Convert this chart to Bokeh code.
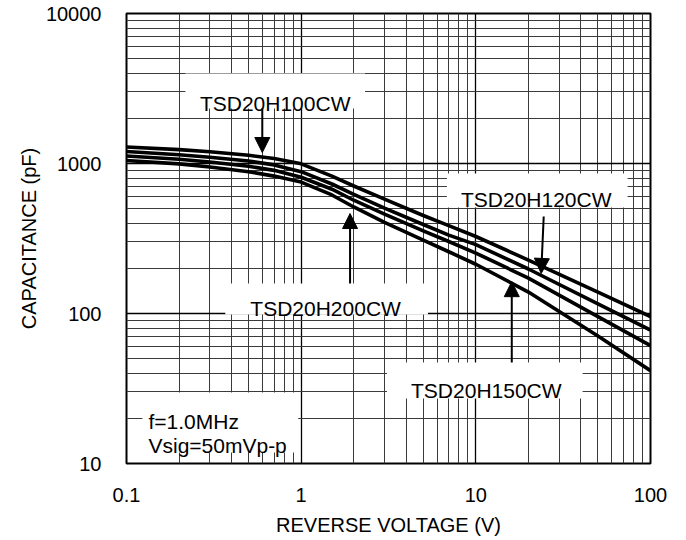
from bokeh.plotting import figure
from bokeh.models import (FixedTicker, CustomJSTickFormatter, BoxAnnotation,
                          Arrow, NormalHead, Label)
from bokeh.embed import file_html
from bokeh.resources import INLINE

# ---------------- data ----------------
voltage = [0.1, 0.2, 0.3, 0.5, 0.7, 1, 1.5, 2, 3, 5, 7, 10, 20, 50, 100]
cap_1 = [1288, 1238, 1197, 1134, 1081, 995, 824, 708, 578, 450, 385, 326, 227, 139, 95.5]
cap_2 = [1202, 1145, 1102, 1038, 979, 882, 730, 623, 504, 392, 333, 288, 198, 116, 77.6]
cap_3 = [1122, 1068, 1023, 958, 900, 810, 674, 569, 460, 356, 302, 253, 172, 95.3, 61.1]
cap_4 = [1047, 994, 948, 882, 824, 752, 617, 513, 405, 308, 258, 213, 139, 70.9, 41.6]

x_ticks = [0.1, 1, 10, 100]
y_ticks = [10, 100, 1000, 10000]
x_minor = [0.2, 0.3, 0.4, 0.5, 0.6, 0.7, 0.8, 0.9,
           2, 3, 4, 5, 6, 7, 8, 9,
           20, 30, 40, 50, 60, 70, 80, 90]
y_minor = [20, 30, 40, 50, 60, 70, 80, 90,
           200, 300, 400, 500, 600, 700, 800, 900,
           2000, 3000, 4000, 5000, 6000, 7000, 8000, 9000]

part_names = ["TSD20H100CW", "TSD20H120CW", "TSD20H200CW", "TSD20H150CW"]
cond_lines = ["f=1.0MHz", "Vsig=50mVp-p"]
x_title = "REVERSE VOLTAGE (V)"
y_title = "CAPACITANCE (pF)"

# ---------------- layout (annotation placement, data coords) ----------------
# label: (x_center, y_baseline); box: (left, right, bottom, top); arrow: (x0, y0, x1, y1)
label_pos = [(0.710, 2523), (22.17, 575), (1.380, 108), (11.48, 30.7)]
box_pos = [(0.2174, 2.321, 2326, 3981),
           (6.83, 73.9, 509, 857),
           (0.3679, 5.317, 98.5, 158.5),
           (3.10, 40.88, 27.1, 47.1)]
arrow_pos = [(0.599, 2326, 0.599, 1184),
             (24.47, 443, 23.67, 185),
             (1.905, 158.5, 1.905, 464),
             (16.06, 47.1, 16.06, 163)]
cond_box = (0.1234, 0.9614, 11.84, 29.74)
cond_pos = [(0.1336, 19.05), (0.1336, 13.18)]

FONT = "Liberation Sans"

p = figure(x_axis_type="log", y_axis_type="log",
           x_range=(0.1, 100), y_range=(10, 10000),
           frame_width=524, frame_height=450,
           min_border_left=126, min_border_right=28,
           min_border_top=13, min_border_bottom=60,
           output_backend="svg", toolbar_location=None,
           background_fill_color="white", border_fill_color="white")

p.outline_line_color = "black"
p.outline_line_width = 2

fmt = CustomJSTickFormatter(code="return String(tick);")
for ax, t, m in ((p.xaxis[0], x_ticks, x_minor), (p.yaxis[0], y_ticks, y_minor)):
    ax.ticker = FixedTicker(ticks=t, minor_ticks=m)
    ax.formatter = fmt
    ax.axis_line_color = None
    ax.major_tick_line_color = None
    ax.minor_tick_line_color = None
    ax.major_tick_in = 0
    ax.major_tick_out = 0
    ax.minor_tick_in = 0
    ax.minor_tick_out = 0
    ax.major_label_text_font = FONT
    ax.major_label_text_font_size = "20px"
    ax.major_label_text_color = "black"
    ax.axis_label_text_font = FONT
    ax.axis_label_text_font_size = "20px"
    ax.axis_label_text_font_style = "normal"
    ax.axis_label_text_color = "black"

p.xaxis.axis_label = x_title
p.yaxis.axis_label = y_title
p.xaxis.major_label_standoff = 24
p.yaxis.major_label_standoff = 25
p.xaxis.axis_label_standoff = 9
p.yaxis.axis_label_standoff = 3

for g, t, m in ((p.xgrid[0], x_ticks, x_minor), (p.ygrid[0], y_ticks, y_minor)):
    g.ticker = FixedTicker(ticks=t, minor_ticks=m)
    g.grid_line_color = "black"
    g.grid_line_width = 1.3
    g.minor_grid_line_color = "#3a3a3a"
    g.minor_grid_line_width = 1

for cap in (cap_1, cap_2, cap_3, cap_4):
    p.line(voltage, cap, line_color="black", line_width=3.6, line_join="round")

# white label boxes covering the grid
for (l, r, b, t) in box_pos + [cond_box]:
    p.add_layout(BoxAnnotation(left=l, right=r, bottom=b, top=t,
                               fill_color="white", fill_alpha=1.0,
                               line_color=None, line_alpha=0))

for (x0, y0, x1, y1) in arrow_pos:
    p.add_layout(Arrow(x_start=x0, y_start=y0, x_end=x1, y_end=y1,
                       line_color="black", line_width=2,
                       end=NormalHead(size=15, fill_color="black",
                                      line_color="black", line_width=1)))

for name, (x, y) in zip(part_names, label_pos):
    p.add_layout(Label(x=x, y=y, text=name, text_align="center",
                       text_baseline="alphabetic", text_font=FONT,
                       text_font_size="21px", text_color="black"))

for line, (x, y) in zip(cond_lines, cond_pos):
    p.add_layout(Label(x=x, y=y, text=line, text_align="left",
                       text_baseline="alphabetic", text_font=FONT,
                       text_font_size="21px", text_color="black"))

open("out.html", "w").write(file_html(p, INLINE))
